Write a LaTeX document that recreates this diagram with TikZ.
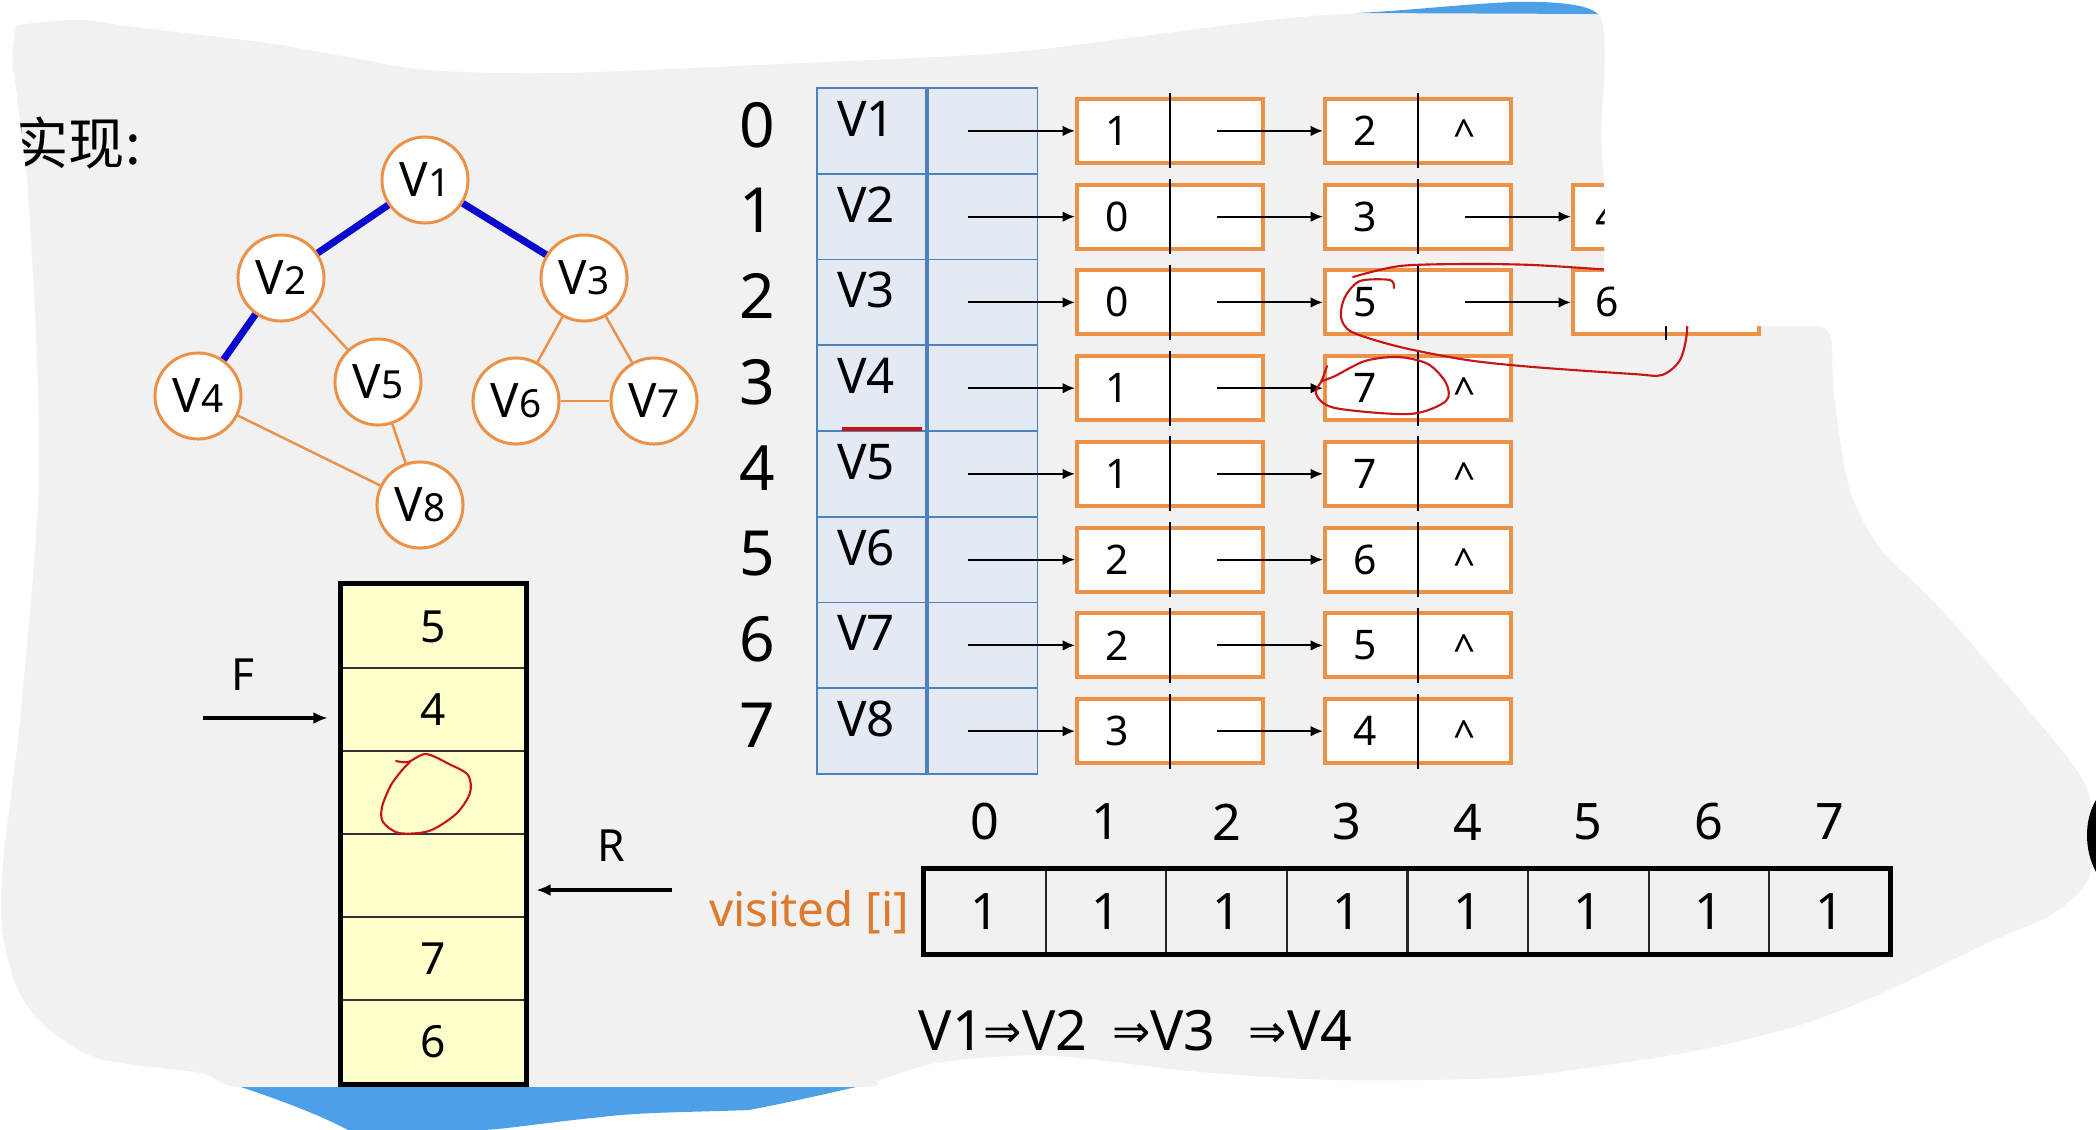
\documentclass[tikz,border=0pt]{standalone}
\usepackage{fontspec}
\setmainfont{Noto Sans}
\newfontfamily\cjkfont{Noto Sans CJK SC}
\newfontfamily\arrowfont{DejaVu Sans}
\usetikzlibrary{arrows.meta, positioning}

\definecolor{paper}{RGB}{241,241,241}
\definecolor{nodeorange}{RGB}{236,145,72}
\definecolor{headfill}{RGB}{228,234,243}
\definecolor{headline}{RGB}{79,129,189}
\definecolor{queuefill}{RGB}{255,255,204}
\definecolor{tapeblue}{RGB}{77,160,230}
\definecolor{inkred}{RGB}{200,20,20}
\definecolor{labelorange}{RGB}{222,122,45}
\definecolor{edgeblue}{RGB}{10,10,205}

\newcommand{\vname}[1]{V{\fontsize{11}{11}\selectfont #1}}
\newcommand{\thento}{\raisebox{1pt}{\arrowfont\fontsize{13}{15}\selectfont ⇒}}

\begin{document}
\begin{tikzpicture}[x=0.01cm, y=-0.01cm, >={Latex[length=3.5pt, width=3pt]},
  every node/.style={inner sep=0pt},
  vert/.style={circle, draw=nodeorange, line width=0.85pt, fill=white, minimum size=0.86cm, font=\fontsize{13.5}{14}\selectfont},
  treeedge/.style={draw=edgeblue, line width=2pt},
  graphedge/.style={draw=nodeorange, line width=0.7pt},
  headcell/.style={draw=headline, fill=headfill, line width=0.5pt, minimum width=1.095cm, minimum height=0.8575cm},
  listbox/.style={draw=nodeorange, fill=white, line width=1.1pt, minimum width=1.86cm, minimum height=0.64cm},
  divider/.style={line width=0.6pt},
  ptrarrow/.style={->, line width=0.6pt},
  idxlabel/.style={font=\fontsize{17.7}{21}\selectfont},
  headlabel/.style={font=\fontsize{14}{17}\selectfont},
  vallabel/.style={font=\fontsize{11.6}{14}\selectfont},
  nulllabel/.style={font=\fontsize{11}{13}\selectfont, anchor=base},
  qcell/.style={draw=black!80, line width=0.8pt, fill=queuefill, minimum width=1.83cm, minimum height=0.83cm, font=\fontsize{12.6}{15}\selectfont},
  vcell/.style={draw=black!85, line width=0.6pt, minimum width=1.206cm, minimum height=0.83cm, font=\fontsize{14.3}{17}\selectfont},
  redpen/.style={draw=inkred, line width=0.6pt, line cap=round, line join=round}]

% torn screenshot background
\useasboundingbox (0,0) rectangle (2096,1130);
\fill[white] (0,0) rectangle (2096,1130);
\fill[paper] plot[smooth cycle, tension=0.5] coordinates {(20,25) (80,20) (134,27) (267,43) (348,57) (428,70) (561,73) (802,63) (1003,53) (1136,37) (1270,20) (1364,13) (1480,13) (1598,13) (1720,13) (1830,15) (1831,180) (1832,345) (1835,403) (1850,490) (1880,548) (1937,605) (2013,692) (2082,778) (2093,829) (2088,880) (2051,915) (1994,940) (1880,994) (1800,1025) (1700,1050) (1600,1066) (1500,1078) (1337,1080) (1200,1072) (1070,1057) (1010,1056) (936,1063) (880,1080) (856,1087) (600,1087) (400,1087) (241,1087) (200,1073) (100,1059) (50,1030) (20,994) (3,936) (3,864) (20,720) (38,504) (37,360) (27,180) (13,72) (15,35)};
\fill[tapeblue] (1357,13) .. controls (1420,10) and (1500,0) .. (1540,2) .. controls (1575,3) and (1592,8) .. (1598,14) -- cycle;
\fill[tapeblue] (241,1087) -- (856,1087) .. controls (800,1100) and (760,1108) .. (749,1110) .. controls (700,1112) and (640,1112) .. (602,1117) .. controls (550,1122) and (500,1130) .. (481,1130) -- (348,1130) .. controls (320,1115) and (280,1100) .. (241,1087) -- cycle;
\fill[black] (2096,800) .. controls (2084,820) and (2084,850) .. (2096,872) -- cycle;

% title
\node[anchor=west, font=\cjkfont\fontsize{16}{18}\selectfont] (title) at (12,143) {实现:};
\fill[white] (0,60) -- (14,72) -- (27,180) -- (0,180) -- cycle;

% graph
\node[vert] (v1) at (425,180) {\vname{1}};
\node[vert] (v2) at (281,278) {\vname{2}};
\node[vert] (v3) at (584,278) {\vname{3}};
\node[vert] (v4) at (198,396) {\vname{4}};
\node[vert] (v5) at (378,382) {\vname{5}};
\node[vert] (v6) at (516,401) {\vname{6}};
\node[vert] (v7) at (654,401) {\vname{7}};
\node[vert] (v8) at (420,505) {\vname{8}};
\draw[treeedge] (v1) -- (v2);
\draw[treeedge] (v1) -- (v3);
\draw[treeedge] (v2) -- (v4);
\draw[graphedge] (v2) -- (v5);
\draw[graphedge] (v3) -- (v6);
\draw[graphedge] (v3) -- (v7);
\draw[graphedge] (v6) -- (v7);
\draw[graphedge] (v4) -- (v8);
\draw[graphedge] (v5) -- (v8);

% adjacency list
\foreach \i/\a/\b in {0/1/2, 1/0/3, 2/0/5, 3/1/7, 4/1/7, 5/2/6, 6/2/5, 7/3/4} {
  \pgfmathsetmacro{\yc}{130.9+85.75*\i}
  \pgfmathtruncatemacro{\n}{\i+1}
  \node[idxlabel] (i\i) at (757,\yc-6) {\i};
  \node[headcell] (h\i) at (871.5,\yc) {};
  \node[headcell, right=0pt of h\i] (p\i) {};
  \node[headlabel] (l\i) at (866,\yc-12) {V\n};
  \node[listbox] (a\i) at (1170,\yc) {};
  \node[listbox, right=0.58cm of a\i] (b\i) {};
  \node[vallabel] (av\i) at ([xshift=-0.53cm]a\i.center) {\a};
  \node[vallabel] (bv\i) at ([xshift=-0.53cm]b\i.center) {\b};
  \draw[divider] ([yshift=1pt]a\i.north) -- ([yshift=-1pt]a\i.south);
  \draw[divider] ([yshift=1pt]b\i.north) -- ([yshift=-1pt]b\i.south);
  \draw[ptrarrow] ([xshift=-0.15cm]p\i.center) -- (a\i.west);
  \draw[ptrarrow] ([xshift=0.47cm]a\i.center) -- (b\i.west);
}
\foreach \i in {0,3,4,5,6,7}
  \node[nulllabel] (bn\i) at ([xshift=0.47cm, yshift=-0.17cm]b\i.center) {\textasciicircum};
\foreach \i/\c in {1/4, 2/6} {
  \node[listbox, right=0.58cm of b\i] (c\i) {};
  \node[vallabel] (cv\i) at ([xshift=-0.59cm]c\i.center) {\c};
  \draw[divider] ([yshift=1pt]c\i.north) -- ([yshift=-1pt]c\i.south);
  \draw[ptrarrow] ([xshift=0.47cm]b\i.center) -- (c\i.west);
}

% pen marks
\draw[inkred, line width=1.1pt] (842,429) -- (922,429);
\draw[redpen] plot[smooth] coordinates {(1353,277) (1400,266) (1467,264) (1533,265) (1612,270)};
\draw[redpen] plot[smooth] coordinates {(1394,288) (1390,280) (1360,281) (1345,297) (1341,317) (1352,332) (1400,347) (1467,360) (1533,367) (1633,374) (1662,375) (1680,360) (1687,332) (1686,300)};
\draw[redpen] plot[smooth] coordinates {(1327,366) (1322,380) (1316,394) (1335,408) (1410,414) (1446,401) (1446,383) (1428,364) (1398,357) (1365,361) (1335,376) (1322,381)};

% torn corner over the lists
\fill[white] (1598,0) -- (1598,13) .. controls (1612,25) and (1600,120) .. (1601,137) -- (1605,202) -- (1604,274) -- (1621,280) -- (1621,326) -- (1818,326) .. controls (1828,327) and (1832,335) .. (1832,346) -- (2096,346) -- (2096,0) -- cycle;

% queue
\foreach \j/\v in {0/5, 1/4, 2/{}, 3/{}, 4/7, 5/6}
  \node[qcell] (q\j) at (433.5,626.5+83*\j) {\v};
\draw[line width=1.3pt] (q0.north west) rectangle (q5.south east);
\draw[redpen] plot[smooth] coordinates {(396,761) (408,762) (426,754) (449,764) (468,775) (470,793) (456,814) (429,831) (399,833) (383,822) (382,807) (391,785) (403,769) (410,762)};
\node[font=\fontsize{12.6}{15}\selectfont] (flabel) at (243,675) {F};
\node[font=\fontsize{12.6}{15}\selectfont] (rlabel) at (611,846) {R};
\coordinate (fstart) at (203,718);
\coordinate (rstart) at (672,890);
\draw[->, line width=1pt, >={Latex[length=4pt, width=3.4pt]}, shorten >=0.13cm] (fstart) -- (fstart -| q1.west);
\draw[->, line width=1pt, >={Latex[length=4pt, width=3.4pt]}, shorten >=0.1cm] (rstart) -- (rstart -| q3.east);

% visited array
\foreach \k in {0,...,7} {
  \node[vcell] (s\k) at (985.3+120.6*\k,911.5) {1};
  \node[font=\fontsize{14.3}{17}\selectfont] (t\k) at (985.3+120.6*\k,822) {\k};
}
\draw[line width=1.4pt] (s0.north west) rectangle (s7.south east);
\node[anchor=east, text=labelorange, font=\fontsize{13.5}{16}\selectfont] (vis) at (910,912) {visited [i]};

% visiting order
\node[anchor=west, font=\fontsize{15.8}{19}\selectfont] (order) at (918,1031) {V1\thento V2\hspace{0.25cm}\thento V3\hspace{0.33cm}\thento V4};
\end{tikzpicture}
\end{document}
